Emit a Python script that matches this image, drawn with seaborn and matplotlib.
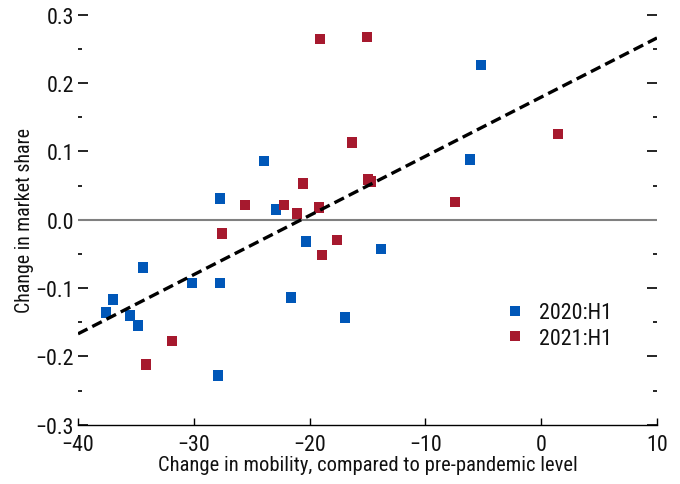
import matplotlib
matplotlib.use("Agg")
import matplotlib.pyplot as plt
import seaborn as sns
import pandas as pd
import numpy as np
from matplotlib.ticker import MultipleLocator, FuncFormatter
from matplotlib import font_manager

# ---- data ----
blue_x = [-5.2, -6.15, -23.96, -27.74, -22.9, -20.31, -13.83, -34.39, -30.16, -27.74,
          -21.61, -37.0, -37.58, -35.51, -34.82, -16.94, -27.91]
blue_y = [0.226, 0.088, 0.086, 0.031, 0.015, -0.032, -0.043, -0.070, -0.093, -0.093,
          -0.114, -0.117, -0.136, -0.140, -0.155, -0.143, -0.228]
red_x = [-19.1, -15.04, -16.34, 1.45, -20.57, -14.93, -14.7, -7.44, -25.58, -22.2,
         -19.2, -21.1, -27.57, -17.66, -18.93, -31.9, -34.1]
red_y = [0.264, 0.267, 0.113, 0.125, 0.053, 0.059, 0.056, 0.026, 0.022, 0.022,
         0.018, 0.009, -0.020, -0.030, -0.052, -0.178, -0.212]
series_names = ["2020:H1", "2021:H1"]
trend_x = [-40, 10]
trend_y = [-0.167, 0.266]
x_ticks = [-40, -30, -20, -10, 0, 10]
y_ticks = [-0.3, -0.2, -0.1, 0.0, 0.1, 0.2, 0.3]

df = pd.DataFrame({
    "x": blue_x + red_x,
    "y": blue_y + red_y,
    "period": [series_names[0]] * len(blue_x) + [series_names[1]] * len(red_x),
})
trend = pd.DataFrame({"x": trend_x, "y": trend_y})

sns.set_style("white")

# prefer an Arial-Narrow-like condensed family
installed = {f.name for f in font_manager.fontManager.ttflist}
preferred = ["Liberation Sans Narrow", "Arial Narrow", "Nimbus Sans Narrow",
             "Roboto Condensed", "Noto Sans Condensed", "Open Sans Condensed"]
narrow = next((n for n in preferred if n in installed), None)
if narrow is None:
    narrow = next((n for n in sorted(installed)
                   if ("Narrow" in n or "Condensed" in n)), None)
if narrow is not None:
    plt.rcParams["font.family"] = [narrow, "Liberation Sans", "DejaVu Sans"]
    fs = 15.8
else:
    plt.rcParams["font.family"] = ["Liberation Sans", "DejaVu Sans"]
    fs = 13
plt.rcParams["text.color"] = "#111111"
plt.rcParams["axes.labelcolor"] = "#111111"
plt.rcParams["xtick.color"] = "#111111"
plt.rcParams["ytick.color"] = "#111111"

fig = plt.figure(figsize=(6.8, 4.85), dpi=100)
ax = fig.add_axes([78 / 680, 1 - 425.7 / 485, (657 - 78) / 680, (425.7 - 15.7) / 485])

ax.axhline(0, color="#808080", lw=1.5, zorder=1)

sns.scatterplot(data=df, x="x", y="y", hue="period", marker="s", s=55,
                palette={"2020:H1": "#0057b8", "2021:H1": "#a6192e"},
                linewidth=0, ax=ax, zorder=3)

sns.lineplot(data=trend, x="x", y="y", color="black", lw=2.4, ax=ax, zorder=4)
ax.lines[-1].set_dashes([3.2, 1.6])

ax.set_xlim(-40, 10)
ax.set_ylim(-0.3, 0.3)
ax.set_xticks(x_ticks)
ax.set_yticks(y_ticks)
ax.yaxis.set_minor_locator(MultipleLocator(0.05))
fmt = lambda v, p: ("%.1f" % (0.0 if abs(v) < 1e-9 else v)).replace("-", "\u2212")
ax.yaxis.set_major_formatter(FuncFormatter(fmt))
ax.xaxis.set_major_formatter(FuncFormatter(lambda v, p: ("%d" % round(v)).replace("-", "\u2212")))

for s in ["top", "left", "right"]:
    ax.spines[s].set_visible(False)
ax.spines["bottom"].set_color("black")
ax.spines["bottom"].set_linewidth(1.0)

ax.tick_params(axis="y", which="major", direction="in", length=7, width=1.2,
               left=True, right=True, labelsize=fs, pad=3, color="black")
ax.tick_params(axis="y", which="minor", direction="in", length=3, width=1.2,
               left=True, right=True, color="black")
ax.tick_params(axis="x", which="major", direction="in", length=5, width=1.0,
               bottom=True, top=False, labelsize=fs, pad=7, color="black")

ax.set_xlabel("Change in mobility, compared to pre-pandemic level", fontsize=14.8, labelpad=0)
ax.set_ylabel("Change in market share", fontsize=14.3, labelpad=1)

leg = ax.legend(loc="upper left", bbox_to_anchor=(0.72, 0.32), frameon=False,
                fontsize=fs, handletextpad=0.6, borderaxespad=0, labelspacing=0.2,
                markerscale=1.0, handlelength=1.0)
ax.grid(False)

fig.savefig("out.png", dpi=100)
